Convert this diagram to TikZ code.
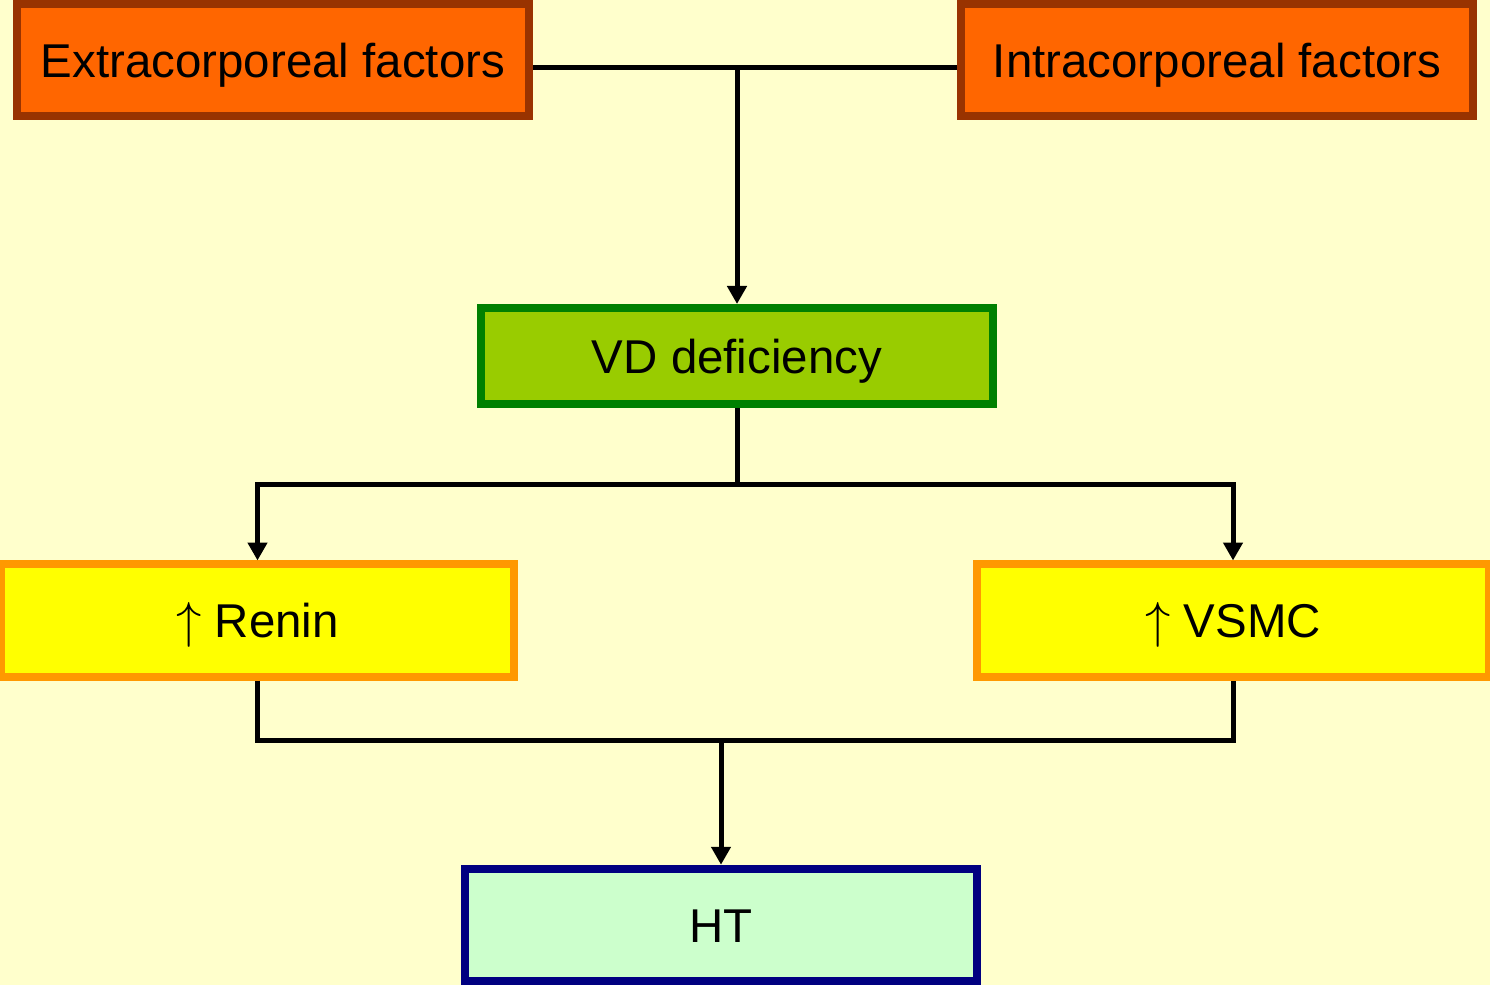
\documentclass[tikz,border=0pt]{standalone}
\usepackage{fontspec}
\setmainfont{Liberation Sans}
\usetikzlibrary{arrows.meta,positioning}

\definecolor{bgyellow}{HTML}{FFFFCC}
\definecolor{factorfill}{HTML}{FF6600}
\definecolor{factorline}{HTML}{993300}
\definecolor{vdfill}{HTML}{99CC00}
\definecolor{vdline}{HTML}{008000}
\definecolor{effectfill}{HTML}{FFFF00}
\definecolor{effectline}{HTML}{FF9900}
\definecolor{htfill}{HTML}{CCFFCC}
\definecolor{htline}{HTML}{000080}

\begin{document}
\begin{tikzpicture}[
        box/.style={draw, line width=0.08cm, minimum width=5.12cm, minimum height=1.12cm,
                    inner sep=0pt, text height=9.8pt, text depth=0pt,
                    font=\fontsize{13.5}{16}\selectfont},
        factor/.style={box, fill=factorfill, draw=factorline},
        effect/.style={box, fill=effectfill, draw=effectline},
        link/.style={line width=0.05cm},
        arrow/.style={link, -{Triangle[width=0.19cm,length=0.18cm]}}
    ]
        \fill[bgyellow] (0, 0) rectangle (14.9, -9.85);
        \useasboundingbox (0, 0) rectangle (14.9, -9.85);

        % boxes
        \node[factor] (extra) at (2.73, -0.60) {Extracorporeal factors};
        \node[factor] (intra) at (12.17, -0.60) {Intracorporeal factors};
        \node[box, fill=vdfill, draw=vdline, minimum height=0.96cm] (vd) at (7.37, -3.56) {VD deficiency};
        \node[effect] (renin) at (2.575, -6.205) {$\uparrow$ Renin};
        \node[effect] (vsmc) at (12.33, -6.205) {$\uparrow$ VSMC};
        \node[box, fill=htfill, draw=htline, minimum height=1.125cm] (ht) at (7.21, -9.25) {HT};

        % junctions
        \coordinate (top) at (7.37, -0.68);
        \coordinate (split) at (7.37, -4.85);
        \coordinate (merge) at (7.21, -7.40);

        % connectors
        \draw[link] ([yshift=-0.08cm]extra.east) -- ([yshift=-0.08cm]intra.west);
        \draw[arrow] (top) -- (vd);
        \draw[link] (vd) -- (split);
        \draw[arrow] (split) -| (renin);
        \draw[arrow] (split) -| (vsmc);
        \draw[link] (renin) |- (merge) -| (vsmc);
        \draw[arrow] (merge) -- (ht);
\end{tikzpicture}
\end{document}
